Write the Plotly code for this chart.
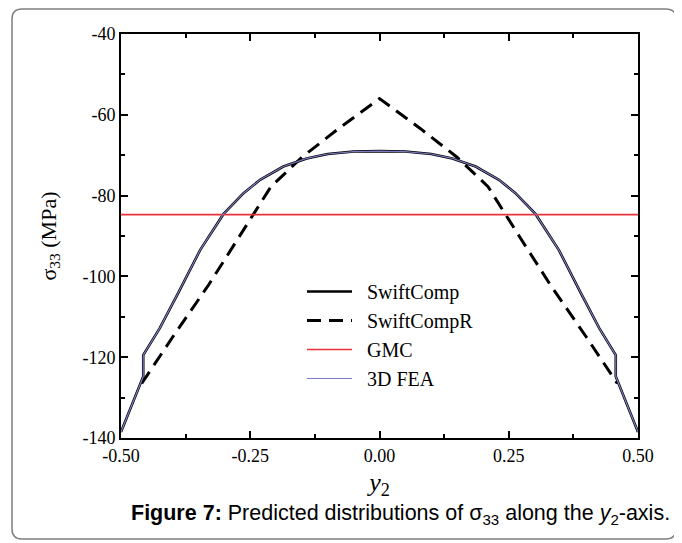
import plotly.graph_objects as go

# ---- data ----
y2_swift = [-0.5, -0.457, -0.457, -0.425, -0.389, -0.347, -0.302, -0.263, -0.231, -0.186, -0.141, -0.10, -0.05, 0.0,
            0.05, 0.10, 0.141, 0.186, 0.231, 0.263, 0.302, 0.347, 0.389, 0.425, 0.457, 0.457, 0.5]
s33_swift = [-138.5, -124.8, -119.5, -112.8, -104.0, -93.5, -84.6, -79.4, -76.1, -72.8, -70.8, -69.7, -69.1, -69.0,
             -69.1, -69.7, -70.8, -72.8, -76.1, -79.4, -84.6, -93.5, -104.0, -112.8, -119.5, -124.8, -138.5]

y2_swiftR = [-0.46, -0.40, -0.33, -0.27, -0.21, -0.15, -0.08, 0.0, 0.08, 0.15, 0.21, 0.27, 0.33, 0.40, 0.46]
s33_swiftR = [-126.5, -115.0, -102.0, -90.0, -77.8, -70.5, -63.5, -56.0, -63.5, -70.5, -77.8, -90.0, -102.0, -115.0, -126.5]

y2_gmc = [-0.5, 0.5]
s33_gmc = [-84.7, -84.7]

y2_fea = [-0.5, -0.457, -0.457, -0.425, -0.389, -0.347, -0.302, -0.263, -0.231, -0.186, -0.141, -0.10, -0.05, 0.0,
          0.05, 0.10, 0.141, 0.186, 0.231, 0.263, 0.302, 0.347, 0.389, 0.425, 0.457, 0.457, 0.5]
s33_fea = [-138.5, -124.8, -119.5, -112.8, -104.0, -93.5, -84.6, -79.4, -76.1, -72.8, -70.8, -69.7, -69.1, -69.0,
           -69.1, -69.7, -70.8, -72.8, -76.1, -79.4, -84.6, -93.5, -104.0, -112.8, -119.5, -124.8, -138.5]

series_names = ["SwiftComp", "SwiftCompR", "GMC", "3D FEA"]

x_tickvals = [-0.5, -0.25, 0.0, 0.25, 0.5]
x_ticktext = ["-0.50", "-0.25", "0.00", "0.25", "0.50"]
y_tickvals = [-40, -60, -80, -100, -120, -140]
y_ticktext = ["-40", "-60", "-80", "-100", "-120", "-140"]

SERIF = "Liberation Serif, Times New Roman, serif"
PAD = "\u00a0\u00a0"

fig = go.Figure()
fig.add_trace(go.Scatter(x=y2_swift, y=s33_swift, mode="lines", name=PAD + series_names[0],
                         line=dict(color="black", width=2.6)))
fig.add_trace(go.Scatter(x=y2_swiftR, y=s33_swiftR, mode="lines", name=PAD + series_names[1],
                         line=dict(color="black", width=3, dash="14px,8px")))
fig.add_trace(go.Scatter(x=y2_gmc, y=s33_gmc, mode="lines", name=PAD + series_names[2],
                         line=dict(color="#e8323a", width=1.6)))
fig.add_trace(go.Scatter(x=y2_fea, y=s33_fea, mode="lines", name=PAD + series_names[3],
                         line=dict(color="#7a7ac0", width=1.2)))

# page has an 8px body margin: the figure starts at (8, 8)
OFF = 8
W, H = 682 - OFF, 543 - OFF
L, R, T, B = 121 - OFF, 44, 34 - OFF, 105
pw, ph = W - L - R, H - T - B

def px2x(p):
    return (p - OFF - L) / pw

def px2y(p):
    return (H - B - (p - OFF)) / ph

# rounded frame around the whole figure
x0, x1 = px2x(12), px2x(676)
y0, y1 = px2y(539), px2y(9)
rx, ry = 10 / pw, 10 / ph
path = (f"M {x0+rx},{y1} L {x1-rx},{y1} Q {x1},{y1} {x1},{y1-ry} "
        f"L {x1},{y0+ry} Q {x1},{y0} {x1-rx},{y0} "
        f"L {x0+rx},{y0} Q {x0},{y0} {x0},{y0+ry} "
        f"L {x0},{y1-ry} Q {x0},{y1} {x0+rx},{y1} Z")
fig.add_shape(type="path", path=path, xref="paper", yref="paper",
              line=dict(color="#7f7f7f", width=1.5), layer="below")

axis_common = dict(showgrid=False, zeroline=False, showline=True, linecolor="black", linewidth=2,
                   mirror="ticks", ticks="inside", tickcolor="black", tickwidth=1.5, ticklen=7,
                   tickfont=dict(family=SERIF, size=18, color="black"))

fig.update_xaxes(range=[-0.5, 0.5], tickvals=x_tickvals, ticktext=x_ticktext,
                 minor=dict(ticks="inside", ticklen=4, tickwidth=1.5, tickcolor="black", dtick=0.125,
                            tick0=-0.5, showgrid=False),
                 title=dict(text="<i>y</i><sub>2</sub>", font=dict(family=SERIF, size=26, color="black"),
                            standoff=8),
                 **axis_common)
fig.update_yaxes(range=[-140, -40], tickvals=y_tickvals, ticktext=y_ticktext,
                 minor=dict(ticks="inside", ticklen=4, tickwidth=1.5, tickcolor="black", dtick=10,
                            tick0=-140, showgrid=False),
                 title=dict(text="σ<sub>33</sub> (MPa)", font=dict(family=SERIF, size=22, color="black"),
                            standoff=20),
                 **axis_common)

fig.add_annotation(text="<b>Figure 7:</b> Predicted distributions of σ<sub>33</sub> along the <i>y</i><sub>2</sub>-axis.",
                   xref="paper", yref="paper", x=px2x(400), y=px2y(514), xanchor="center", yanchor="middle",
                   showarrow=False, font=dict(family="Liberation Sans, Arial, sans-serif", size=21.5, color="black"))

fig.update_layout(
    width=W, height=H,
    margin=dict(l=L, r=R, t=T, b=B),
    paper_bgcolor="white", plot_bgcolor="white",
    showlegend=True,
    legend=dict(x=px2x(302), y=px2y(272), xanchor="left", yanchor="top",
                bgcolor="rgba(0,0,0,0)", borderwidth=0,
                font=dict(family=SERIF, size=20, color="black"),
                itemwidth=45, tracegroupgap=0),
)

fig.write_html("out.html")
